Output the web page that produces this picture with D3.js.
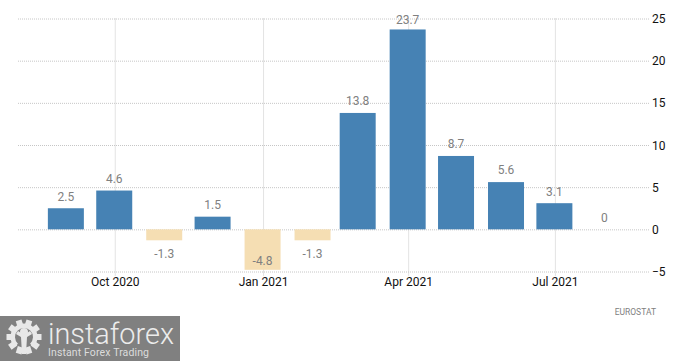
<!DOCTYPE html>
<html>
<head>
<meta charset="utf-8">
<script src="https://cdn.jsdelivr.net/npm/d3@7"></script>
<style>
body{margin:0;background:#fff}
svg{display:block}
text{font-family:Roboto,sans-serif}
</style>
</head>
<body>
<svg id="chart" width="700" height="361"></svg>
<script>
const months = ["2020-09","2020-10","2020-11","2020-12","2021-01","2021-02","2021-03","2021-04","2021-05","2021-06","2021-07","2021-08"]
const values = [2.5,4.6,-1.3,1.5,-4.8,-1.3,13.8,23.7,8.7,5.6,3.1,0]
const yTicks = [-5,0,5,10,15,20,25]
const xTicks = ["2020-10","2021-01","2021-04","2021-07"]
const xTickLabels = ["Oct 2020","Jan 2021","Apr 2021","Jul 2021"]

const parseMonth = d3.timeParse("%Y-%m")
const svg = d3.select("#chart")

const x = d3.scaleTime()
	.domain([new Date(2020,7,2),new Date(2021,7,29)])
	.range([18,650])
const y = d3.scaleLinear()
	.domain([-5,25])
	.range([271.5,18.5])

const barWidth = 36

// grid first so that the bars sit over it
const yAxis = d3.axisRight(y)
	.tickValues(yTicks)
	.tickSize(632)
	.tickFormat(d3.format("d"))
svg.append("g")
	.attr("transform","translate(18,0)")
	.call(yAxis)
	.call(g=>g.select(".domain").remove())
	.call(g=>g.selectAll("line").attr("stroke","#c6c6c6").attr("stroke-dasharray","1,1"))
	.call(g=>g.selectAll("text").attr("x",634).attr("dy","0.34em").attr("fill","#111").style("font-size","12px"))

const xAxis = d3.axisBottom(x)
	.tickValues(xTicks.map(parseMonth))
	.tickSize(258)
	.tickFormat((d,i)=>xTickLabels[i])
svg.append("g")
	.attr("transform","translate(0,18.5)")
	.call(xAxis)
	.call(g=>g.select(".domain").remove())
	.call(g=>g.selectAll("line").attr("stroke","#c6c6c6").attr("stroke-dasharray","1,1"))
	.call(g=>g.selectAll("text").attr("y",263.5).attr("dy","0.34em").attr("fill","#111").style("font-size","12px"))

const rows = months.map((m,i)=>({date:parseMonth(m),value:values[i]}))

svg.append("g").selectAll("rect")
	.data(rows.filter(d=>d.value!==0))
	.join("rect")
	.attr("x",d=>x(d.date)-barWidth/2-0.5)
	.attr("y",d=>Math.min(y(d.value),y(0)))
	.attr("width",barWidth)
	.attr("height",d=>Math.abs(y(d.value)-y(0)))
	.attr("fill",d=>d.value<0?"#f5deb3":"#4682b4")

// labels get clamped inside the plot, like -4.8 and 23.7
function labelCenter(v){
	if(v<0)
		return Math.min(y(v)+13.5,261)
	return Math.max(y(v)-12,20)
}
svg.append("g").selectAll("text")
	.data(rows)
	.join("text")
	.attr("x",d=>x(d.date)-0.5)
	.attr("y",d=>labelCenter(d.value))
	.attr("dy","0.36em")
	.attr("text-anchor","middle")
	.attr("fill","#808080")
	.style("font-size","12px")
	.text(d=>d.value)

svg.append("text")
	.attr("x",656)
	.attr("y",315)
	.attr("text-anchor","end")
	.attr("fill","#808080")
	.style("font-size","8.5px")
	.text("EUROSTAT")

// watermark
const logo = svg.append("g").attr("transform","translate(0,316)")
logo.append("rect").attr("width",180).attr("height",45).attr("fill","#808080")
const gear = logo.append("g").attr("transform","translate(24,21)").attr("fill","#e8e8e8")
d3.range(10).forEach(i=>{
	gear.append("rect")
		.attr("x",-3).attr("y",-17.5)
		.attr("width",6).attr("height",7)
		.attr("transform","rotate("+(i*36+18)+")")
})
gear.append("path")
	.attr("d",d3.arc().innerRadius(9).outerRadius(13.5).startAngle(-2.4).endAngle(2.4)())
gear.append("circle").attr("cy",-5).attr("r",4)
gear.append("path").attr("d","M-8,-3 L-3,0 L-2,17 L2,17 L3,0 L8,-3 L6,-6 L0,-2 L-6,-6 Z")
logo.append("text")
	.attr("x",48)
	.attr("y",28)
	.attr("fill","#ececec")
	.style("font-size","29px")
	.style("font-weight","300")
	.attr("textLength",126)
	.attr("lengthAdjust","spacingAndGlyphs")
	.text("instaforex")
logo.append("text")
	.attr("x",48)
	.attr("y",40)
	.attr("fill","#dcdcdc")
	.style("font-size","10.5px")
	.attr("textLength",101)
	.text("Instant Forex Trading")
</script>
</body>
</html>
